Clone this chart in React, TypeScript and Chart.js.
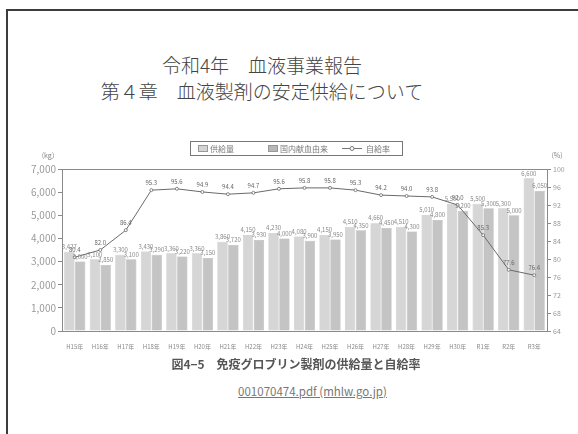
import React, { useEffect, useRef } from "react";
import { Chart, registerables } from "chart.js";

Chart.register(...registerables);

const titleLine1 = "令和4年　血液事業報告";
const titleLine2 = "第４章　血液製剤の安定供給について";
const captionText = "図4−5　免疫グロブリン製剤の供給量と自給率";
const linkText = "001070474.pdf (mhlw.go.jp)";

const categories = [
  "H15年", "H16年", "H17年", "H18年", "H19年", "H20年", "H21年", "H22年", "H23年", "H24年",
  "H25年", "H26年", "H27年", "H28年", "H29年", "H30年", "R1年", "R2年", "R3年",
];
const seriesNames = ["供給量", "国内献血由来", "自給率"];
const supply = [3427, 3100, 3300, 3430, 3360, 3360, 3860, 4150, 4230, 4080, 4150, 4510, 4660, 4510, 5010, 5500, 5500, 5300, 6600];
const domestic = [3000, 2850, 3100, 3290, 3220, 3150, 3720, 3930, 4000, 3900, 3950, 4350, 4450, 4300, 4800, 5200, 5300, 5000, 6050];
const selfRate = [80.4, 82.0, 86.4, 95.3, 95.6, 94.9, 94.4, 94.7, 95.6, 95.8, 95.8, 95.3, 94.2, 94.0, 93.8, 92.0, 85.3, 77.6, 76.4];
const leftTicks = { min: 0, max: 7000, step: 1000 };
const rightTicks = { min: 64, max: 100, step: 4 };

const FONT = "'Noto Sans CJK JP', 'Noto Sans', sans-serif";

const decorPlugin = {
  id: "decor",
  afterDraw(chart: any) {
    const { ctx, chartArea: a } = chart;
    ctx.save();
    ctx.strokeStyle = "#8a8a8a";
    ctx.lineWidth = 1;
    ctx.strokeRect(a.left + 0.5, a.top + 0.5, a.right - a.left, a.bottom - a.top);
    ctx.fillStyle = "#888";
    ctx.font = `7px ${FONT}`;
    ctx.textAlign = "center";
    ctx.textBaseline = "bottom";
    ctx.fillText("(kg)", a.left - 14, a.top - 10);
    ctx.fillText("(%)", a.right + 10, a.top - 10);
    const bx = 170, by = 16, bw = 212, bh = 14;
    ctx.strokeStyle = "#777";
    ctx.strokeRect(bx + 0.5, by + 0.5, bw, bh);
    ctx.font = `8px ${FONT}`;
    ctx.textAlign = "left";
    ctx.textBaseline = "middle";
    const cy = by + bh / 2 + 0.5;
    ctx.fillStyle = "#d4d4d4";
    ctx.fillRect(bx + 8, cy - 3, 9, 6);
    ctx.strokeStyle = "#999";
    ctx.strokeRect(bx + 8.5, cy - 3, 9, 6);
    ctx.fillStyle = "#777";
    ctx.fillText(seriesNames[0], bx + 20, cy);
    ctx.fillStyle = "#b8b8b8";
    ctx.fillRect(bx + 78, cy - 3, 9, 6);
    ctx.strokeRect(bx + 78.5, cy - 3, 9, 6);
    ctx.fillStyle = "#777";
    ctx.fillText(seriesNames[1], bx + 90, cy);
    ctx.strokeStyle = "#777";
    ctx.beginPath();
    ctx.moveTo(bx + 152, cy);
    ctx.lineTo(bx + 172, cy);
    ctx.stroke();
    ctx.beginPath();
    ctx.arc(bx + 162, cy, 2, 0, Math.PI * 2);
    ctx.fillStyle = "#fff";
    ctx.fill();
    ctx.stroke();
    ctx.fillStyle = "#777";
    ctx.fillText(seriesNames[2], bx + 176, cy);
    ctx.restore();
  },
};

const valueLabelPlugin = {
  id: "valueLabels",
  afterDatasetsDraw(chart: any) {
    const ctx = chart.ctx;
    ctx.save();
    ctx.font = `6px ${FONT}`;
    ctx.textAlign = "center";
    ctx.textBaseline = "bottom";
    chart.data.datasets.forEach((ds: any, i: number) => {
      const meta = chart.getDatasetMeta(i);
      meta.data.forEach((el: any, j: number) => {
        const v = ds.data[j] as number;
        const isLine = ds.type === "line";
        const txt = isLine ? v.toFixed(1) : v.toLocaleString("en-US");
        ctx.fillStyle = isLine ? "#666" : "#8a8a8a";
        ctx.fillText(txt, el.x, el.y - (isLine ? 4 : 2));
      });
    });
    ctx.restore();
  },
};

function ChartBox() {
  const ref = useRef<HTMLCanvasElement | null>(null);
  useEffect(() => {
    if (!ref.current) return;
    const chart = new Chart(ref.current, {
      type: "bar",
      data: {
        labels: categories,
        datasets: [
          {
            type: "line" as const,
            label: seriesNames[2],
            data: selfRate,
            yAxisID: "y1",
            borderColor: "#6a6a6a",
            borderWidth: 1,
            pointRadius: 1.5,
            pointBackgroundColor: "#fff",
            pointBorderColor: "#6a6a6a",
            pointBorderWidth: 0.8,
            tension: 0,
            order: 0,
          },
          {
            type: "bar" as const,
            label: seriesNames[0],
            data: supply,
            yAxisID: "y",
            backgroundColor: "#d6d6d6",
            borderColor: "#b5b5b5",
            borderWidth: 0.5,
            categoryPercentage: 0.85,
            barPercentage: 0.95,
            order: 1,
          },
          {
            type: "bar" as const,
            label: seriesNames[1],
            data: domestic,
            yAxisID: "y",
            backgroundColor: "#c4c4c4",
            borderColor: "#aaaaaa",
            borderWidth: 0.5,
            categoryPercentage: 0.85,
            barPercentage: 0.95,
            order: 1,
          },
        ],
      } as any,
      options: {
        animation: false,
        responsive: false,
        maintainAspectRatio: false,
        layout: { padding: { left: 2, right: 0, top: 44, bottom: 0 } },
        plugins: {
          legend: { display: false },
          title: { display: false },
          tooltip: { enabled: false },
        },
        scales: {
          x: {
            grid: { display: false },
            border: { color: "#8a8a8a" },
            ticks: {
              font: { size: 6, family: FONT },
              color: "#8a8a8a",
              maxRotation: 0,
              autoSkip: false,
              padding: 4,
            },
            afterFit(s: any) {
              s.height = 19;
            },
          },
          y: {
            position: "left",
            min: leftTicks.min,
            max: leftTicks.max,
            ticks: {
              stepSize: leftTicks.step,
              callback: (v: any) => Number(v).toLocaleString("en-US"),
              font: { size: 10, family: FONT },
              color: "#9a9a9a",
              padding: 2,
            },
            grid: { display: true, drawOnChartArea: false, tickLength: 4, color: "#8a8a8a" },
            border: { color: "#8a8a8a" },
            afterFit(s: any) {
              s.width = 40;
            },
          },
          y1: {
            position: "right",
            min: rightTicks.min,
            max: rightTicks.max,
            ticks: {
              stepSize: rightTicks.step,
              font: { size: 7, family: FONT },
              color: "#9a9a9a",
              padding: 2,
            },
            grid: { display: true, drawOnChartArea: false, tickLength: 4, color: "#8a8a8a" },
            border: { color: "#8a8a8a" },
            afterFit(s: any) {
              s.width = 28;
            },
          },
        },
      } as any,
      plugins: [decorPlugin, valueLabelPlugin],
    });
    return () => chart.destroy();
  }, []);
  return (
    <canvas
      ref={ref}
      width={555}
      height={225}
      style={{ position: "absolute", left: 20, top: 125, width: 555, height: 225, filter: "blur(0.7px)" }}
    />
  );
}

export default function App() {
  return (
    <div
      style={{
        position: "absolute",
        left: 0,
        top: 0,
        width: 578,
        height: 434,
        overflow: "hidden",
        background: "#fff",
        fontFamily: FONT,
      }}
    >
      <div
        style={{
          position: "absolute",
          left: 6,
          top: 9,
          width: 620,
          height: 500,
          border: "2px solid #3c3c3c",
          boxSizing: "border-box",
        }}
      />
      <div
        style={{
          position: "absolute",
          left: 0,
          width: 578,
          top: 52,
          textAlign: "center",
          color: "#444",
          fontSize: 19,
          lineHeight: "26px",
          fontWeight: 200,
          paddingRight: 54,
          boxSizing: "border-box",
        }}
      >
        <div>{titleLine1}</div>
        <div>{titleLine2}</div>
      </div>
      <ChartBox />
      <div
        style={{
          position: "absolute",
          left: 0,
          width: 578,
          top: 355,
          textAlign: "center",
          color: "#555",
          fontSize: 12,
          fontWeight: 700,
          filter: "blur(0.6px)",
          paddingLeft: 14,
          boxSizing: "border-box",
        }}
      >
        {captionText}
      </div>
      <div
        style={{
          position: "absolute",
          left: 0,
          width: 578,
          top: 383,
          textAlign: "center",
          color: "#777",
          fontSize: 11.5,
          textDecoration: "underline",
          paddingLeft: 47,
          boxSizing: "border-box",
        }}
      >
        {linkText}
      </div>
    </div>
  );
}
